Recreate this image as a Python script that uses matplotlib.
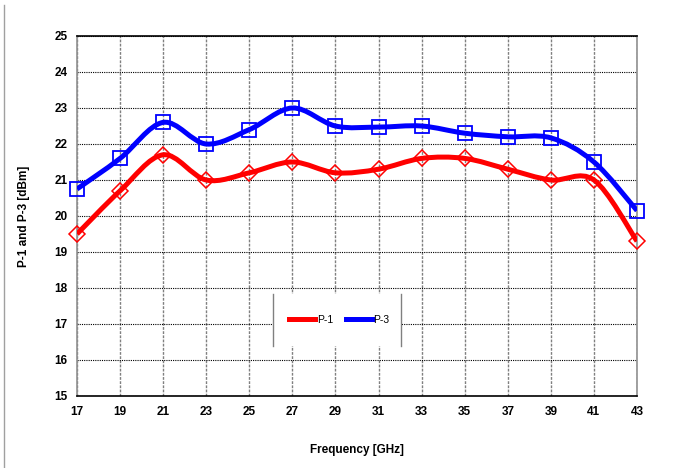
import matplotlib
matplotlib.use("Agg")
import matplotlib.pyplot as plt
from matplotlib.path import Path
from matplotlib.patches import PathPatch, Rectangle
from matplotlib.lines import Line2D

freq = [17, 19, 21, 23, 25, 27, 29, 31, 33, 35, 37, 39, 41, 43]
p1 = [19.5, 20.7, 21.7, 21.0, 21.2, 21.5, 21.2, 21.3, 21.6, 21.6, 21.3, 21.0, 21.0, 19.3]
p3 = [20.75, 21.6, 22.6, 22.0, 22.4, 23.0, 22.5, 22.47, 22.5, 22.3, 22.2, 22.17, 21.5, 20.15]


def smooth_path(x, y):
    # Excel-like smoothed line as cubic Bezier segments through the points
    n = len(x)
    verts = [(x[0], y[0])]
    codes = [Path.MOVETO]
    for i in range(n - 1):
        i0 = max(i - 1, 0)
        i3 = min(i + 2, n - 1)
        c1 = (x[i] + (x[i + 1] - x[i0]) / 6, y[i] + (y[i + 1] - y[i0]) / 6)
        c2 = (x[i + 1] - (x[i3] - x[i]) / 6, y[i + 1] - (y[i3] - y[i]) / 6)
        verts += [c1, c2, (x[i + 1], y[i + 1])]
        codes += [Path.CURVE4] * 3
    return Path(verts, codes)


def main() -> None:
    plt.rcParams['font.family'] = ['Liberation Sans', 'DejaVu Sans']
    fig = plt.figure(figsize=(6.76, 4.68), dpi=100)
    ax = fig.add_axes([77 / 676, 1 - 396 / 468, 560 / 676, 360 / 468])

    ax.set_xlim(17, 43)
    ax.set_ylim(15, 25)
    ax.set_xticks(freq)
    ax.set_yticks(range(15, 26))
    ax.tick_params(length=0, labelsize=8.5, pad=7)
    for lab in ax.get_xticklabels() + ax.get_yticklabels():
        lab.set_fontweight('bold')

    ax.grid(axis='y', color='black', linestyle=(0, (1, 1)), linewidth=0.8)
    ax.grid(axis='x', color='#808080', linestyle=(0, (2, 1)), linewidth=1.0)
    ax.set_axisbelow(True)
    for s in ('left', 'right'):
        ax.spines[s].set_color('#909090')
        ax.spines[s].set_linewidth(1.2)
    for s in ('top', 'bottom'):
        ax.spines[s].set_color('black')
        ax.spines[s].set_linewidth(1.2)

    ax.add_patch(PathPatch(smooth_path(freq, p1), fill=False, edgecolor='#ff0000', lw=3.6, zorder=3))
    ax.add_patch(PathPatch(smooth_path(freq, p3), fill=False, edgecolor='#0000ff', lw=3.6, zorder=3))
    ax.plot(freq, p1, linestyle='none', marker='D', markersize=8, markerfacecolor='none',
            markeredgecolor='#ff0000', markeredgewidth=1.1, zorder=4, clip_on=False)
    ax.plot(freq, p3, linestyle='none', marker='s', markersize=10, markerfacecolor='none',
            markeredgecolor='#0000ff', markeredgewidth=1.3, zorder=4, clip_on=False)

    # legend box: white, only side edges drawn
    x0, x1 = (273 - 77) / 560, (401 - 77) / 560
    y0, y1 = (396 - 346) / 360, (396 - 294) / 360
    ax.add_patch(Rectangle((x0, y0), x1 - x0, y1 - y0, transform=ax.transAxes,
                           facecolor='white', edgecolor='none', zorder=2))
    for xx in (x0, x1):
        ax.add_line(Line2D([xx, xx], [y0, y1], transform=ax.transAxes, color='#808080', lw=1, zorder=2))
    handles = [Line2D([], [], color='#ff0000', lw=3.6), Line2D([], [], color='#0000ff', lw=3.6)]
    ax.legend(handles, ['P-1', 'P-3'], loc='center', bbox_to_anchor=((x0 + x1) / 2 + 0.004, (y0 + y1) / 2),
              ncol=2, frameon=False, fontsize=7.5, handlelength=2.5, handletextpad=0.15,
              columnspacing=1.2)

    ax.set_xlabel('Frequency [GHz]', fontsize=8.5, fontweight='bold', labelpad=19)
    ax.set_ylabel('P-1 and P-3 [dBm]', fontsize=8.5, fontweight='bold', labelpad=17)

    fig.add_artist(Line2D([4 / 676, 4 / 676], [0, 1 - 5 / 468], color='#a0a0a0', lw=1))
    fig.savefig('out.png', dpi=100)


if __name__ == "__main__":
    main()
